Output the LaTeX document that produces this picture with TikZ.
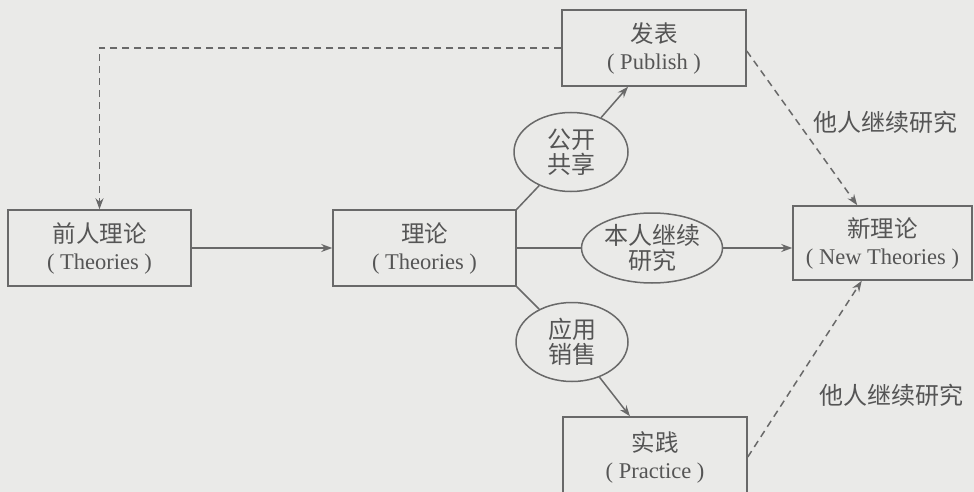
\documentclass[tikz,border=0pt]{standalone}
\usepackage{fontspec}
\setmainfont{Liberation Serif}
\newfontfamily\cjk{Noto Sans CJK SC}
\usetikzlibrary{shapes.geometric,arrows.meta,calc}
\definecolor{bgc}{RGB}{234,234,232}
\definecolor{linec}{RGB}{105,105,105}
\definecolor{textc}{RGB}{85,85,85}
\newcommand{\zh}[1]{{\cjk\fontsize{23.5}{27}\selectfont #1}}
\tikzset{
  boxnode/.style={draw=linec, line width=1.5pt, rectangle, inner sep=0pt,
    minimum width=183pt, minimum height=76pt, align=center, text=textc,
    font=\fontsize{22.5}{27}\selectfont},
  ellnode/.style={draw=linec, line width=1.5pt, ellipse, inner sep=0pt,
    align=center, text=textc, font=\cjk\fontsize{24}{25}\selectfont},
  conn/.style={draw=linec, line width=1.5pt},
  arr/.style={conn, -{Stealth[length=11pt,width=8pt]}},
  dasharr/.style={conn, dash pattern=on 7pt off 5pt, -{Stealth[length=11pt,width=8pt]}},
  lbl/.style={text=textc, font=\cjk\fontsize{24}{25}\selectfont, inner sep=0pt}
}
\begin{document}
\begin{tikzpicture}[x=1pt,y=-1pt]
\fill[bgc] (0,0) rectangle (974,492);
\useasboundingbox (0,0) rectangle (974,492);
\clip (0,0) rectangle (974,492);
% boxes
\node[boxnode] (pre) at (99.5,248) {\zh{前人理论}\\( Theories )};
\node[boxnode] (li) at (424.5,248) {\zh{理论}\\( Theories )};
\node[boxnode, minimum width=184pt] (fb) at (654,48) {\zh{发表}\\( Publish )};
\node[boxnode, minimum width=184pt, minimum height=80pt] (sj) at (655,457) {\zh{实践}\\( Practice )};
\node[boxnode, minimum width=179pt, minimum height=74pt] (xl) at (882.5,243) {\zh{新理论}\\( New Theories )};
% ellipses
\node[ellnode, minimum width=114pt, minimum height=79pt] (gk) at (571,152) {公开\\共享};
\node[ellnode, minimum width=141pt, minimum height=70pt] (bx) at (652,248) {本人继续\\研究};
\node[ellnode, minimum width=112pt, minimum height=79pt] (yy) at (572,342) {应用\\销售};
% labels
\node[lbl] (l1) at (885,122) {他人继续研究};
\node[lbl] (l2) at (891,395) {他人继续研究};
% target points
\coordinate (fbt) at ($(fb.south west)!0.36!(fb.south east)$);
\coordinate (sjt) at ($(sj.north west)!0.365!(sj.north east)$);
\coordinate (xlt) at ($(xl.north west)!0.36!(xl.north east)$);
\coordinate (xlb) at ($(xl.south west)!0.385!(xl.south east)$);
% connectors
\draw[arr] (pre.east) -- (li.west);
\draw[conn] (li.east) -- (bx.west);
\draw[arr] (bx.east) -- (bx.east -| xl.west);
\draw[conn] (li.north east) -- (gk);
\draw[arr] (gk) -- (fbt);
\draw[conn] (li.south east) -- (yy);
\draw[arr] (yy) -- (sjt);
\draw[dasharr] (fb.west) -| (pre.north);
\draw[dasharr] ([yshift=-3pt]fb.east) -- (xlt);
\draw[dasharr] (sj.east) -- (xlb);
\end{tikzpicture}
\end{document}
